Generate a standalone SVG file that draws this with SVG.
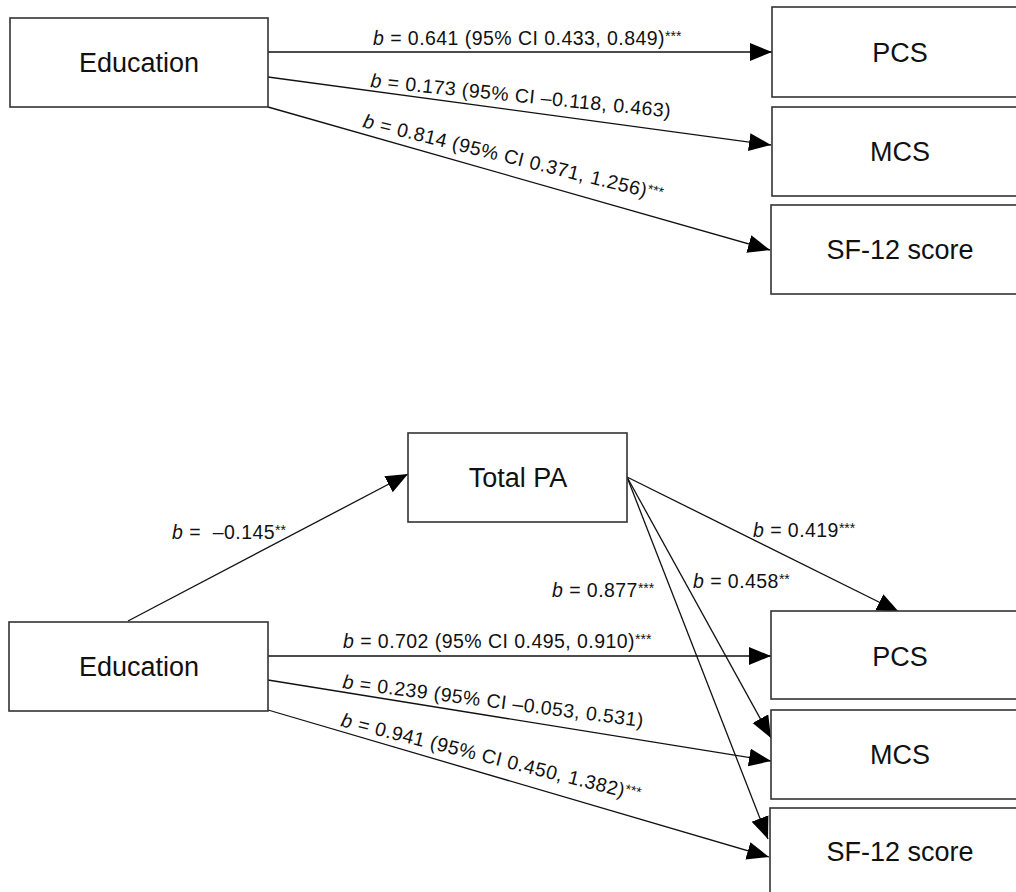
<svg xmlns="http://www.w3.org/2000/svg" width="1016" height="892" viewBox="0 0 1016 892">
<style>
.box{fill:#fff;stroke:#333;stroke-width:1.6}
.nt{font-family:"Liberation Sans",Arial,sans-serif;font-size:27px;fill:#111;text-anchor:middle}
.lb{font-family:"Liberation Sans",Arial,sans-serif;font-size:19.5px;letter-spacing:0.45px;fill:#111}
.st{font-size:14px;letter-spacing:0}
.cn{stroke:#111;stroke-width:1.3;fill:none;marker-end:url(#ah)}
</style>
<defs>
<marker id="ah" markerUnits="userSpaceOnUse" markerWidth="24" markerHeight="20" refX="22" refY="9" orient="auto">
<path d="M0,0 L22,9 L0,18 z" fill="#000"/>
</marker>
</defs>
<rect width="1016" height="892" fill="#fff"/>
<g id="connectors">
<line class="cn" x1="268" y1="52" x2="772" y2="52"/>
<line class="cn" x1="268" y1="77" x2="771" y2="145"/>
<line class="cn" x1="268" y1="107" x2="770" y2="250"/>
<line class="cn" x1="128" y1="621" x2="408" y2="474"/>
<line class="cn" x1="268" y1="656" x2="771" y2="656"/>
<line class="cn" x1="268" y1="680" x2="771" y2="761"/>
<line class="cn" x1="268" y1="710" x2="769" y2="857"/>
<line class="cn" x1="627" y1="477" x2="899" y2="612"/>
<line class="cn" x1="627" y1="477" x2="771" y2="738"/>
<line class="cn" x1="627" y1="477" x2="768" y2="839"/>
</g>
<g id="labels">
<text class="lb" x="373" y="45"><tspan font-style="italic">b</tspan> = 0.641 (95% CI 0.433, 0.849)<tspan class="st" dy="-4">***</tspan></text>
<text class="lb" transform="translate(370,87) rotate(5.8)"><tspan font-style="italic">b</tspan> = 0.173 (95% CI –0.118, 0.463)</text>
<text class="lb" transform="translate(362,127) rotate(13.9)"><tspan font-style="italic">b</tspan> = 0.814 (95% CI 0.371, 1.256)<tspan class="st" dy="-4">***</tspan></text>
<text class="lb" x="172" y="539" xml:space="preserve"><tspan font-style="italic">b</tspan> =  –0.145<tspan class="st" dy="-4">**</tspan></text>
<text class="lb" x="753" y="537"><tspan font-style="italic">b</tspan> = 0.419<tspan class="st" dy="-4">***</tspan></text>
<text class="lb" x="693" y="588"><tspan font-style="italic">b</tspan> = 0.458<tspan class="st" dy="-4">**</tspan></text>
<text class="lb" x="552" y="597"><tspan font-style="italic">b</tspan> = 0.877<tspan class="st" dy="-4">***</tspan></text>
<text class="lb" x="343" y="648"><tspan font-style="italic">b</tspan> = 0.702 (95% CI 0.495, 0.910)<tspan class="st" dy="-4">***</tspan></text>
<text class="lb" transform="translate(342,688) rotate(7.4)"><tspan font-style="italic">b</tspan> = 0.239 (95% CI –0.053, 0.531)</text>
<text class="lb" transform="translate(340,726) rotate(14.1)"><tspan font-style="italic">b</tspan> = 0.941 (95% CI 0.450, 1.382)<tspan class="st" dy="-4">***</tspan></text>
</g>
<g id="node-education-top"><rect class="box" x="10" y="18" width="258" height="89"/><text class="nt" x="139" y="72">Education</text></g>
<g id="node-pcs-top"><rect class="box" x="772" y="7" width="260" height="90"/><text class="nt" x="900" y="62">PCS</text></g>
<g id="node-mcs-top"><rect class="box" x="772" y="107" width="260" height="89"/><text class="nt" x="900" y="161">MCS</text></g>
<g id="node-sf12-top"><rect class="box" x="771" y="205" width="260" height="89"/><text class="nt" x="900" y="259">SF-12 score</text></g>
<g id="node-totalpa"><rect class="box" x="408" y="433" width="219" height="89"/><text class="nt" x="518" y="487">Total PA</text></g>
<g id="node-education-bottom"><rect class="box" x="9" y="622" width="259" height="89"/><text class="nt" x="139" y="676">Education</text></g>
<g id="node-pcs-bottom"><rect class="box" x="771" y="611" width="260" height="88"/><text class="nt" x="900" y="666">PCS</text></g>
<g id="node-mcs-bottom"><rect class="box" x="771" y="710" width="260" height="89"/><text class="nt" x="900" y="764">MCS</text></g>
<g id="node-sf12-bottom"><rect class="box" x="770" y="808" width="260" height="89"/><text class="nt" x="900" y="861">SF-12 score</text></g>
</svg>
